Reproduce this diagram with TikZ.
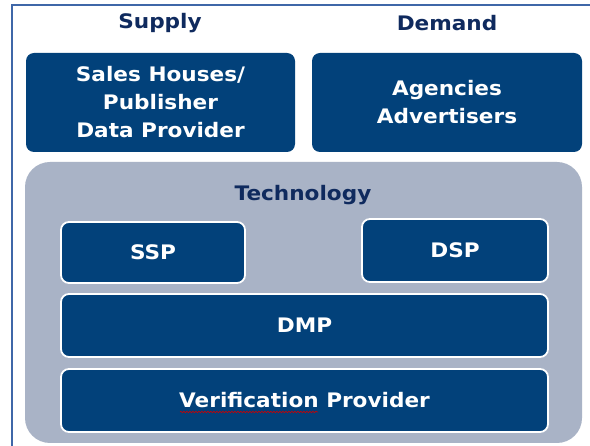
\documentclass[tikz,border=0pt]{standalone}
\usepackage{fontspec}
\setmainfont[FakeStretch=1.08]{DejaVu Sans}
\usetikzlibrary{decorations.pathmorphing}
\definecolor{navy}{HTML}{02417A}
\definecolor{titleblue}{HTML}{0F2A5E}
\definecolor{techgray}{HTML}{A9B3C6}
\definecolor{framecol}{HTML}{3F67A8}
\tikzset{
  darkbox/.style={rectangle, rounded corners=8pt, fill=navy, text=white,
    font=\bfseries\fontsize{20}{28}\selectfont, align=center, inner sep=0pt},
  innerbox/.style={darkbox, draw=white, line width=1.8pt},
  heading/.style={text=titleblue, font=\bfseries\fontsize{20}{24}\selectfont, inner sep=0pt},
  techbox/.style={rectangle, rounded corners=25pt, fill=techgray, inner sep=0pt},
  spell/.style={draw=red!80!black, line width=0.6pt, decorate,
    decoration={snake, amplitude=0.8pt, segment length=3pt}}
}
\begin{document}
\begin{tikzpicture}[x=1pt,y=-1pt]
\useasboundingbox (0,0) rectangle (590,446);
\fill[white] (0,0) rectangle (590,446);
% frame (cut off at right and bottom)
\draw[framecol, line width=1.8pt] (12,446) -- (12,5) -- (590,5);
% headings
\node[heading] (supply) at (160,23) {Supply};
\node[heading] (demand) at (447,23) {Demand};
% top boxes
\node[darkbox, minimum width=269pt, minimum height=99pt] (sales) at (160.5,102.5)
  {Sales Houses/\\Publisher\\Data Provider};
\node[darkbox, minimum width=270pt, minimum height=99pt] (agencies) at (447,102.5)
  {Agencies\\Advertisers};
% technology area
\node[techbox, minimum width=557pt, minimum height=281pt] (tech) at (303.5,302.5) {};
\node[heading] (techlabel) at (303,195) {Technology};
\node[innerbox, minimum width=184pt, minimum height=61pt] (ssp) at (153,252.5) {SSP};
\node[innerbox, minimum width=186pt, minimum height=63pt] (dsp) at (455,250.5) {DSP};
\node[innerbox, minimum width=487pt, minimum height=63pt] (dmp) at (304.5,325.5) {DMP};
\node[innerbox, minimum width=487pt, minimum height=63pt] (verif) at (304.5,400.5) {Verification Provider};
% spell-check underline
\draw[spell] (180,412) -- (318,412);
\end{tikzpicture}
\end{document}
